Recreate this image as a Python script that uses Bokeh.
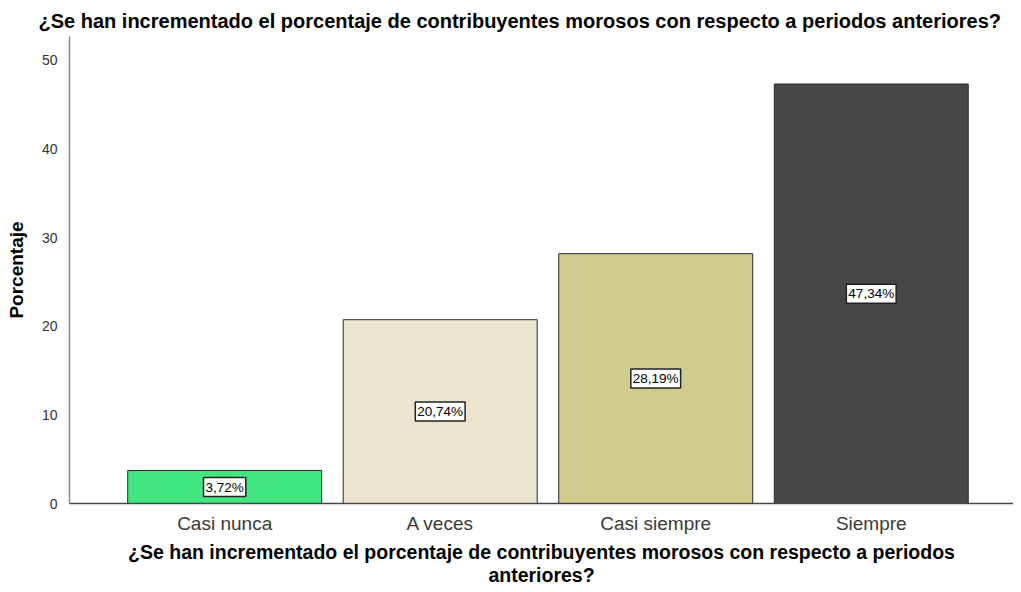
from bokeh.plotting import figure
from bokeh.models import Range1d, ColumnDataSource, FixedTicker, Title
from bokeh.core.properties import value
from bokeh.embed import file_html
from bokeh.resources import INLINE

categories = ["Casi nunca", "A veces", "Casi siempre", "Siempre"]
values = [3.72, 20.74, 28.19, 47.34]
colors = ["#42e580", "#ebe5d0", "#d0cb8f", "#464749"]
y_ticks = [0, 10, 20, 30, 40, 50]

title_text = "¿Se han incrementado el porcentaje de contribuyentes morosos con respecto a periodos anteriores?"
xlabel_lines = ["¿Se han incrementado el porcentaje de contribuyentes morosos con respecto a periodos",
                "anteriores?"]

idx = list(range(len(categories)))
src = ColumnDataSource(dict(
    x=idx,
    top=values,
    mid=[v / 2 for v in values],
    color=colors,
    lab=[f"{v:.2f}".replace(".", ",") + "%" for v in values],
))

FONT = "Liberation Sans"

p = figure(width=1013, height=584, output_backend="svg", toolbar_location=None,
           x_range=Range1d(-0.72, 3.66), y_range=Range1d(0, 52.7),
           min_border_left=69, min_border_right=0, min_border_top=36, min_border_bottom=81)
p.outline_line_color = None
p.grid.visible = False

p.vbar(x="x", top="top", bottom=0, width=0.9, source=src, fill_color="color",
       line_color="#2b2b2b", line_width=1)

p.text(x="x", y="mid", text="lab", source=src, text_align="center",
       text_baseline="middle", text_font=value(FONT), text_font_size="13.5px",
       text_color="#000000", background_fill_color="white",
       border_line_color="#222222", border_line_width=1.5, padding=2)

p.title.text = title_text
p.title.text_font = FONT
p.title.text_font_size = "20px"
p.title.text_font_style = "bold"
p.title.text_color = "#000000"
p.title.align = "left"
p.title.offset = -31
p.title.standoff = 9

xa = p.xaxis[0]
xa.ticker = FixedTicker(ticks=idx)
xa.major_label_overrides = {i: c for i, c in zip(idx, categories)}
xa.major_tick_line_color = None
xa.minor_tick_line_color = None
xa.major_label_text_font = FONT
xa.major_label_text_font_size = "19px"
xa.major_label_text_color = "#3a3a3a"
xa.major_label_standoff = 3
xa.axis_line_color = "#444444"
xa.axis_line_width = 1.5

# x-axis title (two lines) stacked below the axis
for i, line_text in enumerate(xlabel_lines):
    t = Title(text=line_text, align="center", offset=7, text_font=FONT,
              text_font_size="19.5px", text_font_style="bold", text_color="#000000",
              standoff=(4 if i == 0 else -6))
    p.add_layout(t, "below")

ya = p.yaxis[0]
ya.ticker = FixedTicker(ticks=y_ticks)
ya.major_tick_line_color = None
ya.minor_tick_line_color = None
ya.major_label_text_font = FONT
ya.major_label_text_font_size = "14px"
ya.major_label_text_color = "#333333"
ya.major_label_standoff = 6
ya.axis_line_color = "#8a8a8a"
ya.axis_line_width = 1.5
ya.axis_label = "Porcentaje"
ya.axis_label_text_font = FONT
ya.axis_label_text_font_size = "19px"
ya.axis_label_text_font_style = "bold"
ya.axis_label_text_color = "#000000"
ya.axis_label_standoff = 12

open("out.html", "w").write(file_html(p, INLINE))
